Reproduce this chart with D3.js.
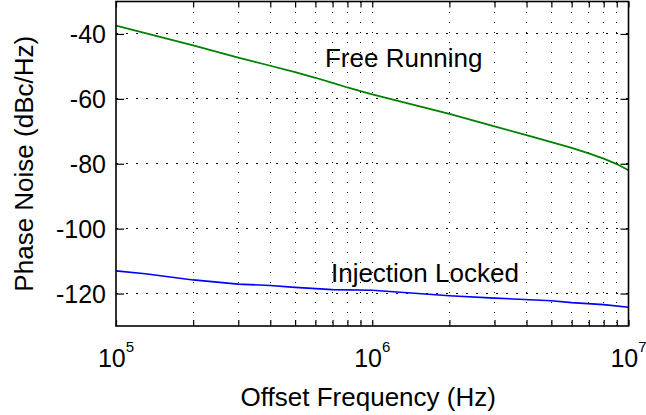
<!DOCTYPE html>
<html>
<head>
<meta charset="utf-8">
<script src="https://cdnjs.cloudflare.com/ajax/libs/d3/7.8.5/d3.min.js"></script>
<style>
  body { margin: 0; background: #fff; }
  #chart text { font-family: "Liberation Sans", Arial, sans-serif; fill: #000; }
  .grid line { stroke: #000; stroke-width: 1; stroke-dasharray: 1.5 8.5; shape-rendering: crispEdges; }
  .axis path { display: none; }
  .axis line { stroke: #000; stroke-width: 1.2; }
</style>
</head>
<body>
<div id="chart"><svg></svg></div>
<script>
// offset frequency samples (Hz)
var freqFree = [1e5, 2e5, 3e5, 4e5, 5e5, 6e5, 7e5, 8e5, 9e5, 1e6, 2e6, 3e6, 4e6, 5e6, 6e6, 7e6, 8e6, 9e6, 1e7];
var noiseFree = [-37.4, -43.5, -47.3, -49.8, -51.8, -53.5, -55.1, -56.5, -57.6, -58.6, -64.6, -68.5, -71.2, -73.3, -75.1, -76.8, -78.4, -80.1, -82];

var freqLocked = [1e5, 1.3e5, 1.6e5, 2e5, 3e5, 4e5, 5e5, 7e5, 1e6, 2e6, 3e6, 5e6, 6e6, 8e6, 1e7];
var noiseLocked = [-113, -113.9, -114.8, -115.8, -117.1, -117.5, -118.1, -118.8, -119, -120.7, -121.4, -122.2, -122.8, -123.4, -124.2];

var yTicks = [-120, -100, -80, -60, -40];
var xGridTicks = [2e5, 3e5, 4e5, 5e5, 6e5, 7e5, 8e5, 9e5, 1e6, 2e6, 3e6, 4e6, 5e6, 6e6, 7e6, 8e6, 9e6];
var xMinorTicks = [1e5, 2e5, 3e5, 4e5, 5e5, 6e5, 7e5, 8e5, 9e5, 1e6, 2e6, 3e6, 4e6, 5e6, 6e6, 7e6, 8e6, 9e6, 1e7];
var xLabelExp = [5, 6, 7];

var annotations = [
  { text: "Free Running", f: 6.54e5, v: -50.2 },
  { text: "Injection Locked", f: 6.9e5, v: -116.4 }
];

var margin = { top: 1.5, right: 17.5, bottom: 89, left: 116 };
var width = 646 - margin.left - margin.right;
var height = 415 - margin.top - margin.bottom;

var svg = d3.select("#chart svg").
  attr("width", 646).
  attr("height", 415).
  append("g").
  attr("transform", "translate(" + margin.left + "," + margin.top + ")");

var xScale = d3.scaleLog().
  domain([1e5, 1e7]).
  range([0, width]);

var yScale = d3.scaleLinear().
  domain([-130, -30]).
  range([height, 0]);

// dotted grid
var grid = svg.append("g").attr("class", "grid");
grid.selectAll(".gy").
  data(yTicks).
  enter().append("line").
  attr("x1", 0).attr("x2", width).
  attr("y1", function(d) { return yScale(d); }).
  attr("y2", function(d) { return yScale(d); });
grid.selectAll(".gx").
  data(xGridTicks).
  enter().append("line").
  attr("y1", 0).attr("y2", height).
  attr("x1", function(d) { return xScale(d); }).
  attr("x2", function(d) { return xScale(d); });

// ticks on all four sides, pointing inwards
svg.append("g").
  attr("class", "axis").
  attr("transform", "translate(0," + height + ")").
  call(d3.axisBottom(xScale).tickValues(xMinorTicks).tickSize(-6).tickFormat(""));
svg.append("g").
  attr("class", "axis").
  call(d3.axisTop(xScale).tickValues(xMinorTicks).tickSize(-6).tickFormat(""));
svg.append("g").
  attr("class", "axis").
  attr("transform", "translate(" + width + ",0)").
  call(d3.axisRight(yScale).tickValues(yTicks).tickSize(-8).tickFormat(""));
var gY = svg.append("g").
  attr("class", "axis").
  call(d3.axisLeft(yScale).tickValues(yTicks).tickSize(-8).tickPadding(10).
    tickFormat(function(d) { return String(d); }));
gY.selectAll("text").
  style("font-size", "25px").
  attr("dy", "0.36em");

// decade labels 10^n
var xl = svg.selectAll(".xlab").
  data(xLabelExp).
  enter().append("text").
  attr("x", function(d) { return xScale(Math.pow(10, d)); }).
  attr("y", height + 41).
  attr("text-anchor", "middle").
  style("font-size", "25px");
xl.append("tspan").text("10");
xl.append("tspan").
  attr("dy", -15).
  style("font-size", "15px").
  text(function(d) { return d; });

var line = d3.line().
  x(function(d) { return xScale(d[0]); }).
  y(function(d) { return yScale(d[1]); });

svg.append("path").
  datum(d3.zip(freqFree, noiseFree)).
  attr("fill", "none").
  attr("stroke", "#008000").
  attr("stroke-width", 1.8).
  attr("d", line);

svg.append("path").
  datum(d3.zip(freqLocked, noiseLocked)).
  attr("fill", "none").
  attr("stroke", "#0000ff").
  attr("stroke-width", 1.6).
  attr("d", line);

svg.selectAll(".note").
  data(annotations).
  enter().append("text").
  attr("x", function(d) { return xScale(d.f); }).
  attr("y", function(d) { return yScale(d.v); }).
  style("font-size", "26px").
  text(function(d) { return d.text; });

// box
svg.append("rect").
  attr("width", width).
  attr("height", height).
  attr("fill", "none").
  attr("stroke", "#000").
  attr("stroke-width", 1.6);

svg.append("text").
  attr("x", width / 2 - 4).
  attr("y", height + 80).
  attr("text-anchor", "middle").
  style("font-size", "26px").
  text("Offset Frequency (Hz)");

svg.append("text").
  attr("transform", "translate(" + (33 - margin.left) + "," + (height / 2) + ") rotate(-90)").
  attr("text-anchor", "middle").
  style("font-size", "26px").
  text("Phase Noise (dBc/Hz)");
</script>
</body>
</html>
